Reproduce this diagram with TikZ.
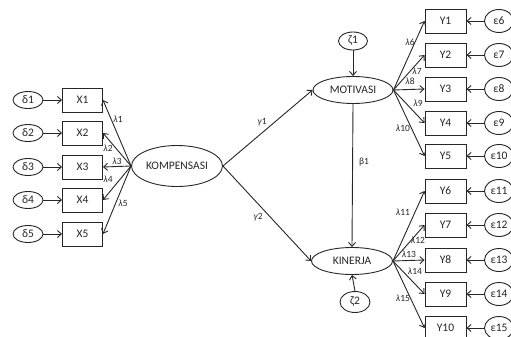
\documentclass[tikz,border=0pt]{standalone}
\usepackage{fontspec}
\setmainfont{Carlito}
\usetikzlibrary{shapes.geometric,arrows.meta}
\begin{document}
\begin{tikzpicture}[x=1pt,y=-1pt,
  every node/.style={text=black!85, font=\fontsize{11.5}{12}\selectfont},
  obs/.style={draw=black!85, line width=0.9pt, rectangle, minimum width=40pt, minimum height=24pt, inner sep=0pt},
  lat/.style={draw=black!85, line width=0.9pt, ellipse, inner sep=0pt},
  err/.style={draw=black!85, line width=0.9pt, ellipse, inner sep=0pt, minimum width=29pt, minimum height=18pt},
  conn/.style={draw=black!85, line width=0.9pt, -{Straight Barb[length=4pt,width=7pt]}},
  lab/.style={font=\fontsize{9.5}{10}\selectfont, inner sep=0pt}
]
\useasboundingbox (0,0) rectangle (511,337);
% left side
\node[lat, minimum width=91pt, minimum height=41pt] (K) at (177,166) {KOMPENSASI};
\foreach \i/\y in {1/100,2/133,3/167,4/200,5/234}{
  \node[obs] (X\i) at (82.5,\y) {X\i};
  \node[err, minimum width=30pt, minimum height=17pt] (d\i) at (28,\y) {δ\i};
  \draw[conn] (d\i.east) -- (X\i.west);
  \draw[conn] (K.west) -- (X\i.east);
}
\node[lab] (l1) at (118,119) {\textit{λ}1};
\node[lab] (l2) at (108,148) {\textit{λ}2};
\node[lab] (l3) at (117,161) {\textit{λ}3};
\node[lab] (l4) at (108,179) {\textit{λ}4};
\node[lab] (l5) at (123,203) {\textit{λ}5};
% latent
\node[lat, minimum width=80pt, minimum height=27pt] (M) at (353,90) {MOTIVASI};
\node[lat, minimum width=81pt, minimum height=27pt] (N) at (352,261) {KINERJA};
\node[err] (z1) at (353,41) {ζ1};
\node[err, minimum width=30pt, minimum height=21pt] (z2) at (355,302) {ζ2};
\draw[conn] (z1.south) -- (M.north);
\draw[conn] (z2.north) -- (N.south);
\draw[conn] (M.south) -- (N.north);
\node[lab] (b1) at (364,162) {β1};
\draw[conn] (K.east) -- (M.west);
\draw[conn] (K.east) -- (N.west);
\node[lab] (g1) at (262,122) {\textit{γ}1};
\node[lab] (g2) at (258,217) {\textit{γ}2};
% right side
\foreach \i/\y in {1/21,2/55,3/89,4/123,5/156}{
  \pgfmathtruncatemacro{\e}{\i+5}
  \node[obs, minimum width=41pt] (Y\i) at (445.5,\y) {Y\i};
  \node[err, minimum width=29pt, minimum height=23pt] (e\i) at (499,\y) {ε\e};
  \draw[conn] (e\i.west) -- (Y\i.east);
  \draw[conn] (M.east) -- (Y\i.west);
}
\foreach \i/\y in {6/191,7/225,8/260,9/294,10/328}{
  \pgfmathtruncatemacro{\e}{\i+5}
  \node[obs, minimum width=41pt] (Y\i) at (445.5,\y) {Y\i};
  \node[err, minimum width=29pt, minimum height=23pt] (e\i) at (499,\y) {ε\e};
  \draw[conn] (e\i.west) -- (Y\i.east);
  \draw[conn] (N.east) -- (Y\i.west);
}
\node[lab] (l6) at (410,42) {\textit{λ}6};
\node[lab] (l7) at (417,71) {\textit{λ}7};
\node[lab] (l8) at (410,81) {\textit{λ}8};
\node[lab] (l9) at (418,103) {\textit{λ}9};
\node[lab] (l10) at (403,128) {\textit{λ}10};
\node[lab] (l11) at (403,212) {\textit{λ}11};
\node[lab] (l12) at (418,240) {\textit{λ}12};
\node[lab] (l13) at (409,254) {\textit{λ}13};
\node[lab] (l14) at (415,271) {\textit{λ}14};
\node[lab] (l15) at (403,298) {\textit{λ}15};
\end{tikzpicture}
\end{document}
